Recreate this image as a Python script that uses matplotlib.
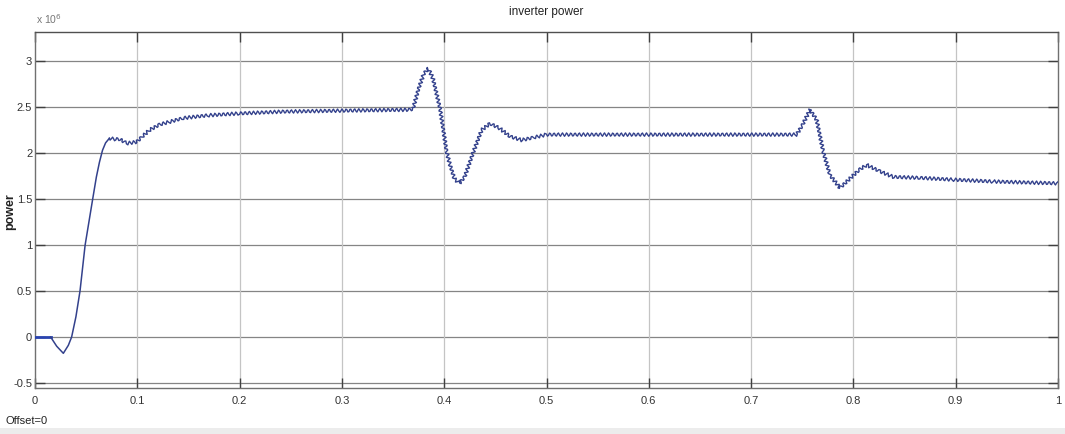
import matplotlib
matplotlib.use("Agg")
import matplotlib.pyplot as plt
from matplotlib.patches import Rectangle

# ---- data, power in units of 1e6 ----
t_start = [0.0, 0.0153]
p_start = [0.0, 0.0]

t_rise = [0.0153, 0.0212, 0.0277, 0.0326, 0.0358, 0.040, 0.044, 0.049,
          0.0564, 0.060, 0.063, 0.066, 0.069, 0.0727]
p_rise = [0.0, -0.10, -0.177, -0.09, 0.0, 0.22, 0.5, 1.0,
          1.5, 1.74, 1.90, 2.03, 2.11, 2.16]

t_main = [0.0727, 0.078, 0.083, 0.0896, 0.0994, 0.105, 0.112, 0.122, 0.132,
          0.145, 0.17, 0.2, 0.243, 0.298, 0.3666, 0.3695, 0.375, 0.380,
          0.3845, 0.389, 0.396, 0.4024, 0.4057, 0.410, 0.4148, 0.420,
          0.4285, 0.4366, 0.4448, 0.454, 0.4643, 0.4757, 0.488, 0.5, 0.6,
          0.7445, 0.750, 0.7576, 0.7641, 0.7706, 0.7771, 0.7869, 0.7983,
          0.806, 0.813, 0.826, 0.839, 0.865, 0.898, 0.937, 1.0]
p_main = [2.16, 2.15, 2.15, 2.105, 2.12, 2.18, 2.25, 2.31, 2.34,
          2.38, 2.41, 2.43, 2.45, 2.46, 2.47, 2.48, 2.70, 2.86,
          2.92, 2.81, 2.48, 2.01, 1.87, 1.72, 1.67, 1.74,
          2.01, 2.25, 2.32, 2.27, 2.18, 2.14, 2.17, 2.20, 2.20,
          2.20, 2.30, 2.47, 2.36, 2.01, 1.76, 1.62, 1.74,
          1.82, 1.87, 1.80, 1.74, 1.73, 1.71, 1.69, 1.67]

x_ticks = [0, 0.1, 0.2, 0.3, 0.4, 0.5, 0.6, 0.7, 0.8, 0.9, 1]
x_labels = ["0", "0.1", "0.2", "0.3", "0.4", "0.5", "0.6", "0.7", "0.8", "0.9", "1"]
y_ticks = [-0.5, 0, 0.5, 1, 1.5, 2, 2.5, 3]
y_labels = ["-0.5", "0", "0.5", "1", "1.5", "2", "2.5", "3"]

title = "inverter power"
ylabel = "power"

plt.rcParams['font.family'] = ['Liberation Sans Narrow', 'Liberation Sans', 'DejaVu Sans']

fig = plt.figure(figsize=(10.65, 4.34), dpi=100)
fig.patches.append(Rectangle((0, 0), 1, 6 / 434, transform=fig.transFigure,
                             facecolor='#ececec', edgecolor='none', zorder=-5))
ax = fig.add_axes([35 / 1065, 1 - 388 / 434, (1058 - 35) / 1065, (388 - 32) / 434])

line_color = '#33418c'
ax.plot(t_start, p_start, color='#2a44b0', lw=2.0, zorder=4)
ax.plot(t_rise, p_rise, color=line_color, lw=1.1, zorder=4)
ln, = ax.plot(t_main, p_main, color=line_color, lw=1.0, zorder=4)
ln.set_sketch_params(scale=1.7, length=4.2, randomness=1.0)

ax.set_xlim(0, 1)
ax.set_ylim(-0.554, 3.315)
ax.set_xticks(x_ticks)
ax.set_xticklabels(x_labels)
ax.set_yticks(y_ticks)
ax.set_yticklabels(y_labels)

for y in y_ticks:
    ax.axhline(y, color='#858585', lw=0.9, zorder=1)
for x in x_ticks[1:-1]:
    ax.axvline(x, color='#c4c4c4', lw=0.9, zorder=1)

ax.tick_params(axis='both', direction='in', length=7, width=1.0, color='#404040',
               labelsize=8, labelcolor='#333333', top=True, right=True)
ax.tick_params(axis='x', pad=6)
ax.tick_params(axis='y', pad=2)
for s in ax.spines.values():
    s.set_color('#707070')
    s.set_linewidth(1.0)
ax.spines['top'].set_color('#505050')

ax.set_title(title, fontsize=8.5, color='#222222', pad=12)
fig.text(10 / 1065, 1 - 212 / 434, ylabel, rotation=90, fontsize=9,
         fontweight='bold', family=['Liberation Sans', 'DejaVu Sans'],
         ha='center', va='center', color='#222222')
fig.text(36 / 1065, 1 - 24 / 434, r'x 10$^{6}$', fontsize=7.5, color='#777777',
         ha='left', va='baseline')
fig.text(5 / 1065, 1 - 424 / 434, 'Offset=0', fontsize=8, color='#222222',
         ha='left', va='baseline')

fig.savefig('out.png', dpi=100, facecolor='white')
